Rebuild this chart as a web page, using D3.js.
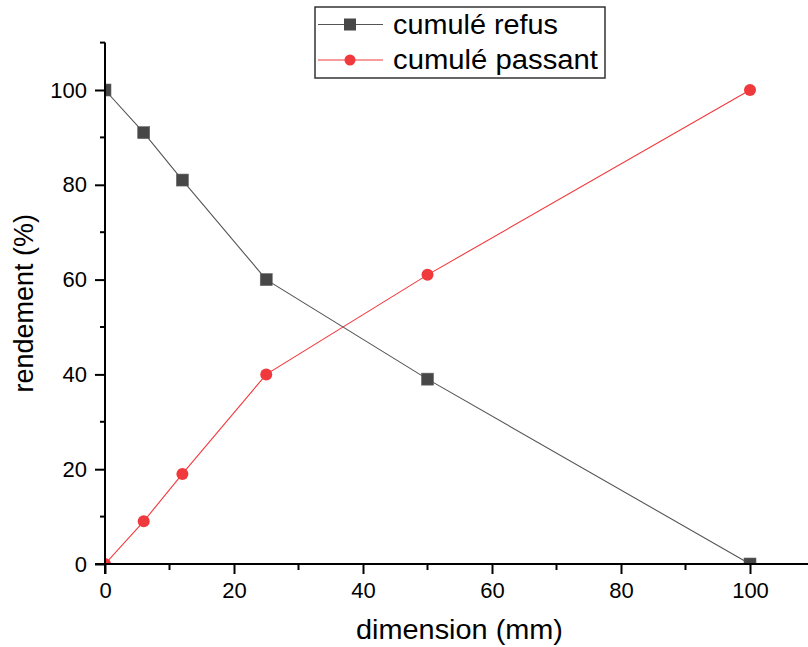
<!DOCTYPE html>
<html><head><meta charset="utf-8">
<script src="https://cdn.jsdelivr.net/npm/d3@7"></script>
<style>body{margin:0;background:#fff}svg{display:block}</style>
</head><body>
<svg id="c" width="808" height="647"></svg>
<script>
const dimensions = [0, 6, 12, 25, 50, 100];
const cumulRefus = [100, 91, 81, 60, 39, 0];
const cumulPassant = [0, 9, 19, 40, 61, 100];
const xTicks = [0, 20, 40, 60, 80, 100];
const yTicks = [0, 20, 40, 60, 80, 100];
const xMinor = [10, 30, 50, 70, 90, 110];
const yMinor = [10, 30, 50, 70, 90, 110];
const seriesNames = ["cumulé refus", "cumulé passant"];

const svg = d3.select("#c");
const font = "'Liberation Sans', Arial, sans-serif";
const x = d3.scaleLinear().domain([0, 110]).range([105, 814.5]);
const y = d3.scaleLinear().domain([0, 110]).range([564, 42.6]);

svg.append("defs").append("clipPath").attr("id", "clip")
  .append("rect").attr("x", x(0)).attr("y", y(110))
  .attr("width", x(110) - x(0)).attr("height", y(0) - y(110));

const plot = svg.append("g").attr("clip-path", "url(#clip)");
const series = [
  {name: seriesNames[0], vals: cumulRefus, color: "#555555", fill: "#474747", shape: "square", tl: 165},
  {name: seriesNames[1], vals: cumulPassant, color: "#f2393c", fill: "#f0393c", shape: "circle", tl: 205}
];
const line = d3.line().x(d => x(d[0])).y(d => y(d[1]));
series.forEach(s => {
  const pts = dimensions.map((d, i) => [d, s.vals[i]]);
  plot.append("path").attr("d", line(pts)).attr("fill", "none")
    .attr("stroke", s.color).attr("stroke-width", 1.1);
  pts.forEach(p => {
    if (s.shape === "square") {
      plot.append("rect").attr("x", x(p[0]) - 6).attr("y", y(p[1]) - 6)
        .attr("width", 12).attr("height", 12).attr("fill", s.fill)
        .attr("stroke", "#666").attr("stroke-width", 0.6);
    } else {
      plot.append("circle").attr("cx", x(p[0])).attr("cy", y(p[1])).attr("r", 6)
        .attr("fill", s.fill);
    }
  });
});

// Axes
const xAxis = svg.append("g").attr("transform", `translate(0,${y(0)})`)
  .call(d3.axisBottom(x).tickValues(xTicks).tickSize(10).tickPadding(8).tickFormat(d3.format("d")));
xAxis.append("g").selectAll("line").data(xMinor).join("line")
  .attr("x1", d => x(d)).attr("x2", d => x(d)).attr("y1", 0).attr("y2", 6)
  .attr("stroke", "#000").attr("stroke-width", 2);
const yAxis = svg.append("g").attr("transform", `translate(${x(0)},0)`)
  .call(d3.axisLeft(y).tickValues(yTicks).tickSize(10).tickPadding(8).tickFormat(d3.format("d")));
yAxis.append("g").selectAll("line").data(yMinor).join("line")
  .attr("y1", d => y(d)).attr("y2", d => y(d)).attr("x1", 0).attr("x2", -5)
  .attr("stroke", "#000").attr("stroke-width", 2);
[xAxis, yAxis].forEach(a => {
  a.select(".domain").attr("stroke", "#000").attr("stroke-width", 2);
  a.selectAll(".tick line").attr("stroke", "#000").attr("stroke-width", 2);
  a.selectAll(".tick text").attr("font-family", font).attr("font-size", 22).attr("fill", "#000");
});
xAxis.select(".domain").attr("d", `M${x(0) - 10},0H${x(110)}`);
yAxis.select(".domain").attr("d", `M0,${y(0) + 10}V${y(110)}`);

// Titles
svg.append("text").attr("x", 356).attr("y", 639)
  .attr("font-family", font).attr("font-size", 27)
  .attr("textLength", 207).attr("lengthAdjust", "spacingAndGlyphs")
  .text("dimension (mm)");
svg.append("text").attr("transform", `translate(33,${(y(0) + y(110)) / 2}) rotate(-90)`)
  .attr("text-anchor", "middle").attr("font-family", font).attr("font-size", 27)
  .text("rendement (%)");

// Legend
const lg = svg.append("g");
lg.append("rect").attr("x", 315).attr("y", 7).attr("width", 290).attr("height", 71)
  .attr("fill", "#fff").attr("stroke", "#333").attr("stroke-width", 1.5);
series.forEach((s, i) => {
  const cy = 24.5 + i * 35.5;
  lg.append("line").attr("x1", 318).attr("x2", 383).attr("y1", cy).attr("y2", cy)
    .attr("stroke", s.color).attr("stroke-width", 1.1);
  if (s.shape === "square") {
    lg.append("rect").attr("x", 344).attr("y", cy - 6).attr("width", 12).attr("height", 12)
      .attr("fill", s.fill);
  } else {
    lg.append("circle").attr("cx", 350).attr("cy", cy).attr("r", 5.5).attr("fill", s.fill);
  }
  lg.append("text").attr("x", 393).attr("y", cy + 9).attr("font-family", font)
    .attr("font-size", 27).attr("fill", "#000")
    .attr("textLength", s.tl).attr("lengthAdjust", "spacingAndGlyphs").text(s.name);
});
</script>
</body></html>
